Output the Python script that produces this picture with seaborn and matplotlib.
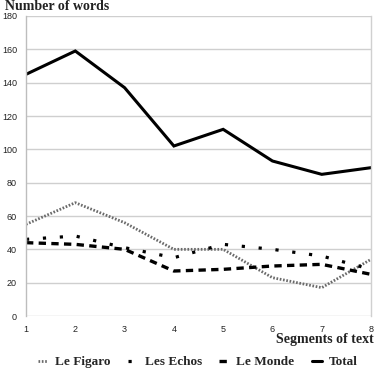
import matplotlib
matplotlib.use("Agg")
import matplotlib.pyplot as plt
import seaborn as sns
import pandas as pd

segments = [1, 2, 3, 4, 5, 6, 7, 8]
le_figaro = [55, 68, 56, 40, 40, 23, 17, 34]
les_echos = [46, 48, 41, 35, 43, 40, 36, 28]
le_monde = [44, 43, 40, 27, 28, 30, 31, 25]
total = [145, 159, 137, 102, 112, 93, 85, 89]
series_names = ["Le Figaro", "Les Echos", "Le Monde", "Total"]
y_ticks = [0, 20, 40, 60, 80, 100, 120, 140, 160, 180]

sns.set_style("white")
plt.rcParams['font.family'] = ['Liberation Sans', 'DejaVu Sans']

df = pd.DataFrame({
    "seg": segments * 4,
    "val": le_figaro + les_echos + le_monde + total,
    "series": sum([[n] * len(segments) for n in series_names], []),
})

fig = plt.figure(figsize=(3.79, 3.72), dpi=100)
ax = fig.add_axes([0.0686, 0.1505, 0.9104, 0.8065])

styles = {
    "Le Figaro": dict(color="#6a6a6a", lw=2.0, ls=(0, (0.6, 0.6))),
    "Les Echos": dict(color="black", lw=2.3, ls=(0, (1, 4.3))),
    "Le Monde": dict(color="black", lw=2.4, ls=(0, (2.2, 1.6))),
    "Total": dict(color="black", lw=2.2, ls="-"),
}
for name in series_names:
    sub = df[df["series"] == name]
    st = styles[name]
    sns.lineplot(data=sub, x="seg", y="val", ax=ax, color=st["color"],
                 linewidth=st["lw"], linestyle=st["ls"], label=name,
                 solid_joinstyle="miter")

ax.set_xlim(1, 8)
ax.set_ylim(0, 180)
ax.set_xticks(segments)
ax.set_yticks(y_ticks)
ax.tick_params(axis="both", labelsize=6.5, colors="#444444", length=3, width=0.8)
for lbl in ax.get_xticklabels() + ax.get_yticklabels():
    lbl.set_color("#222222")
ax.grid(axis="y", color="#cfcfcf", linewidth=1)
for s in ["top", "bottom"]:
    ax.spines[s].set_visible(False)
ax.spines["left"].set_color("#bdbdbd")
ax.spines["right"].set_color("#d0d0d0")
ax.spines["left"].set_linewidth(1)
ax.spines["right"].set_linewidth(1)
ax.set_axisbelow(True)
ax.set_xlabel("")
ax.set_ylabel("")

serif = ['Liberation Serif', 'DejaVu Serif']
fig.text(0.013, 0.982, "Number of words", fontsize=10, fontweight="bold",
         family=serif, ha="left", va="center", color="#222222")
fig.text(0.987, 0.088, "Segments of text", fontsize=10, fontweight="bold",
         family=serif, ha="right", va="center", color="#222222")

handles, labels = ax.get_legend_handles_labels()
if ax.get_legend():
    ax.get_legend().remove()
fig.legend(handles, labels, loc="center", bbox_to_anchor=(0.522, 0.026), ncol=4,
           frameon=False, handlelength=0.8, handletextpad=0.5, columnspacing=1.3,
           prop={"family": serif, "weight": "bold", "size": 9.5})

fig.savefig("out.png", dpi=100)
